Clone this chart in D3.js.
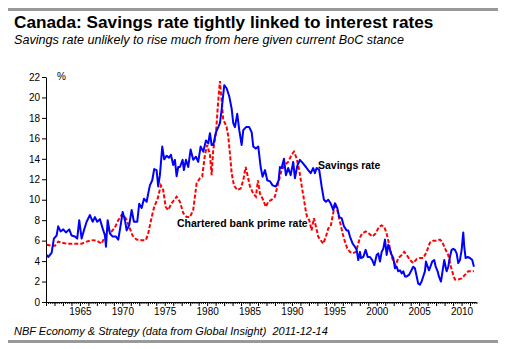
<!DOCTYPE html>
<html>
<head>
<meta charset="utf-8">
<script src="https://cdnjs.cloudflare.com/ajax/libs/d3/7.8.5/d3.min.js"></script>
<style>
  body { margin: 0; background: #fff; }
  svg { display: block; font-family: "Liberation Sans", Arial, sans-serif; }
</style>
</head>
<body>
<svg id="chart" width="508" height="349"></svg>
<script>
// Personal savings rate (%)
const savingsYears = [
  1961.07, 1961.26, 1961.66, 1961.93, 1962.25, 1962.44, 1962.72, 1963.03, 1963.35, 1963.74,
  1964.02, 1964.41, 1964.68, 1964.92, 1965.2, 1965.47, 1965.79, 1966.18, 1966.5, 1966.77,
  1967.04, 1967.36, 1967.68, 1967.95, 1968.07, 1968.27, 1968.54, 1968.86, 1969.25, 1969.52,
  1969.8, 1970.04, 1970.31, 1970.51, 1970.81, 1971.1, 1971.37, 1971.76, 1971.99, 1972.28,
  1972.55, 1972.87, 1973.05, 1973.25, 1973.53, 1973.76, 1974.04, 1974.23, 1974.43, 1974.71,
  1974.94, 1975.22, 1975.5, 1975.73, 1976.0, 1976.2, 1976.4, 1976.59, 1976.79, 1977.11,
  1977.26, 1977.5, 1977.77, 1978.05, 1978.36, 1978.68, 1978.95, 1979.23, 1979.54, 1979.86,
  1980.13, 1980.33, 1980.53, 1980.72, 1981.04, 1981.31, 1981.51, 1981.71, 1982.02, 1982.3,
  1982.61, 1982.89, 1983.08, 1983.28, 1983.55, 1983.79, 1984.07, 1984.26, 1984.58, 1984.96,
  1985.25, 1985.44, 1985.75, 1986.03, 1986.31, 1986.54, 1986.82, 1987.09, 1987.41, 1987.72,
  1988.11, 1988.43, 1988.58, 1988.78, 1989.06, 1989.29, 1989.56, 1989.85, 1990.15, 1990.35,
  1990.63, 1990.94, 1991.26, 1991.65, 1991.92, 1992.21, 1992.51, 1992.71, 1992.91, 1993.22,
  1993.5, 1993.77, 1994.01, 1994.28, 1994.56, 1994.87, 1995.07, 1995.34, 1995.58, 1995.86,
  1996.13, 1996.45, 1996.64, 1996.84, 1997.16, 1997.43, 1997.63, 1997.82, 1998.02, 1998.14,
  1998.41, 1998.69, 1998.93, 1999.2, 1999.47, 1999.71, 1999.99, 2000.18, 2000.38, 2000.58,
  2000.77, 2000.97, 2001.17, 2001.36, 2001.56, 2001.76, 2001.95, 2002.15, 2002.35, 2002.54,
  2002.74, 2002.94, 2003.13, 2003.33, 2003.53, 2003.8, 2004.03, 2004.3, 2004.5, 2004.71,
  2004.89, 2005.09, 2005.29, 2005.48, 2005.68, 2005.8, 2006.0, 2006.16, 2006.39, 2006.54,
  2006.78, 2006.95, 2007.18, 2007.33, 2007.57, 2007.72, 2007.96, 2008.12, 2008.24, 2008.43,
  2008.63, 2008.83, 2009.02, 2009.22, 2009.42, 2009.61, 2009.81, 2010.01, 2010.2, 2010.32,
  2010.48, 2010.72, 2010.99, 2011.26, 2011.46
];
const savingsRate = [
  4.6, 4.4, 4.8, 6.2, 6.5, 7.4, 6.9, 7.1, 6.8, 7.1,
  6.5, 6.4, 6.2, 8.0, 6.2, 7.0, 7.85, 8.5, 7.85, 8.3,
  7.85, 8.1, 7.2, 6.5, 5.4, 8.0, 6.7, 6.4, 6.4, 6.1,
  7.5, 8.8, 8.0, 7.0, 7.5, 9.0, 7.85, 7.85, 9.6, 9.2,
  10.1, 9.8, 10.6, 11.4, 11.9, 13.0, 12.9, 11.3, 12.4, 15.2,
  13.95, 14.3, 14.1, 14.4, 13.4, 13.9, 12.3, 13.2, 13.2, 13.9,
  12.9, 13.9, 13.2, 14.9, 13.9, 14.2, 13.7, 15.2, 14.7, 15.8,
  15.5, 16.5, 15.35, 15.35, 16.6, 17.1, 17.5, 18.8, 21.2, 20.9,
  20.1, 18.9, 17.5, 17.1, 18.4, 16.8, 15.35, 16.8, 17.1, 17.1,
  16.6, 15.2, 15.0, 15.2, 13.2, 12.25, 12.9, 11.9, 11.8, 11.4,
  11.3, 11.9, 13.2, 13.1, 14.0, 12.4, 13.1, 12.4, 13.7, 12.1,
  13.3, 13.9, 13.6, 13.2, 12.9, 12.6, 13.1, 12.6, 13.1, 12.9,
  11.3, 10.0, 9.8, 10.0, 9.65, 9.0, 9.65, 9.2, 8.3, 8.2,
  7.4, 7.0, 7.0, 6.4, 5.7, 5.4, 5.1, 4.1, 4.9, 4.3,
  4.4, 5.1, 4.4, 4.4, 4.1, 3.6, 4.6, 4.75, 3.95, 4.9,
  5.2, 6.1, 4.6, 5.6, 5.1, 4.6, 4.3, 3.3, 3.45, 3.0,
  3.1, 2.8, 3.0, 2.5, 2.5, 2.65, 3.0, 3.45, 3.3, 2.5,
  1.8, 1.7, 2.0, 2.5, 3.0, 3.95, 3.45, 3.1, 3.6, 3.95,
  4.1, 3.45, 3.0, 2.5, 2.0, 2.8, 4.1, 3.45, 3.0, 3.45,
  4.4, 5.1, 5.2, 5.1, 4.75, 3.8, 4.1, 5.1, 6.8, 5.4,
  4.3, 4.4, 4.3, 4.1, 3.45
];

// Chartered bank prime rate (%)
const primeYears = [
  1961.07, 1961.66, 1962.05, 1962.44, 1962.84, 1963.43, 1964.21, 1965.2, 1965.79, 1966.38,
  1966.97, 1967.56, 1967.95, 1968.34, 1968.74, 1969.13, 1969.52, 1969.92, 1970.19, 1970.51,
  1970.81, 1971.21, 1971.68, 1972.28, 1972.78, 1973.05, 1973.46, 1973.76, 1974.16, 1974.55,
  1974.82, 1975.11, 1975.41, 1975.81, 1976.4, 1976.79, 1977.18, 1977.58, 1977.97, 1978.36,
  1978.76, 1979.15, 1979.42, 1979.74, 1980.01, 1980.33, 1980.53, 1980.72, 1981.04, 1981.31,
  1981.51, 1981.71, 1981.9, 1982.1, 1982.3, 1982.49, 1982.69, 1982.89, 1983.16, 1983.55,
  1983.95, 1984.26, 1984.54, 1984.76, 1985.05, 1985.44, 1985.75, 1985.99, 1986.23, 1986.54,
  1986.93, 1987.2, 1987.61, 1987.99, 1988.38, 1988.78, 1989.17, 1989.56, 1989.96, 1990.24,
  1990.55, 1990.86, 1991.14, 1991.42, 1991.65, 1991.8, 1992.04, 1992.32, 1992.59, 1992.83,
  1993.1, 1993.38, 1993.69, 1994.01, 1994.28, 1994.56, 1994.87, 1995.07, 1995.34, 1995.66,
  1995.98, 1996.25, 1996.52, 1996.84, 1997.16, 1997.55, 1997.82, 1998.02, 1998.29, 1998.69,
  1999.08, 1999.47, 1999.87, 2000.26, 2000.58, 2000.88, 2001.17, 2001.44, 2001.67, 2001.95,
  2002.23, 2002.54, 2002.94, 2003.24, 2003.53, 2003.92, 2004.3, 2004.71, 2005.09, 2005.48,
  2005.88, 2006.27, 2006.66, 2007.06, 2007.45, 2007.72, 2008.04, 2008.43, 2008.75, 2009.02,
  2009.22, 2009.61, 2010.01, 2010.4, 2010.79, 2011.19, 2011.46
];
const primeRate = [
  5.6, 5.5, 5.5, 5.9, 5.8, 5.7, 5.7, 5.7, 5.9, 6.05,
  6.0, 5.7, 6.4, 7.1, 6.9, 7.3, 8.0, 8.5, 8.5, 8.0,
  7.35, 6.5, 6.1, 6.05, 6.05, 6.7, 8.3, 9.3, 10.1, 11.4,
  10.95, 9.3, 9.0, 9.65, 10.3, 9.8, 8.7, 8.3, 8.3, 9.0,
  11.6, 12.1, 12.25, 14.4, 15.35, 14.4, 12.4, 14.9, 16.5, 19.7,
  21.6, 19.7, 17.8, 17.5, 17.1, 16.2, 14.5, 12.6, 11.4, 10.95,
  11.1, 11.9, 13.2, 12.4, 11.3, 10.6, 10.3, 11.9, 10.6, 10.1,
  9.3, 9.8, 10.0, 10.3, 11.6, 12.9, 13.4, 13.7, 14.4, 14.7,
  14.05, 12.9, 11.4, 10.0, 8.8, 8.3, 8.0, 7.0, 8.2, 7.35,
  6.4, 6.05, 5.7, 6.4, 7.2, 7.35, 8.7, 9.65, 9.0, 7.85,
  6.7, 5.9, 5.25, 4.9, 4.75, 4.9, 5.7, 6.3, 6.7, 6.9,
  6.7, 6.4, 6.7, 7.35, 7.5, 7.35, 6.7, 5.7, 4.75, 3.95,
  3.6, 4.3, 4.6, 4.9, 4.6, 4.1, 3.8, 4.2, 4.3, 4.3,
  4.9, 5.8, 6.0, 6.0, 6.1, 5.9, 5.25, 4.6, 3.45, 2.65,
  2.2, 2.2, 2.3, 2.65, 3.0, 3.0, 3.0
];

const yTicks = [0, 2, 4, 6, 8, 10, 12, 14, 16, 18, 20, 22];
const yearLabels = [1965, 1970, 1975, 1980, 1985, 1990, 1995, 2000, 2005, 2010];

const svg = d3.select('#chart');

const x = d3.scaleLinear().domain([1961, 2011.75]).range([46, 476.4]);
const y = d3.scaleLinear().domain([0, 22]).range([302, 77]);

// grey rules top and bottom
svg.append('rect').attr('x', 8).attr('y', 8).attr('width', 490).attr('height', 3).attr('fill', '#999');
svg.append('rect').attr('x', 8).attr('y', 340).attr('width', 490).attr('height', 3).attr('fill', '#999');

svg.append('text')
  .attr('x', 14).attr('y', 28)
  .attr('font-size', 17.2).attr('font-weight', 'bold')
  .text('Canada: Savings rate tightly linked to interest rates');

svg.append('text')
  .attr('x', 14).attr('y', 44)
  .attr('font-size', 12.6).attr('font-style', 'italic')
  .text('Savings rate unlikely to rise much from here given current BoC stance');

svg.append('text')
  .attr('x', 14).attr('y', 335)
  .attr('font-size', 11).attr('font-style', 'italic')
  .style('white-space', 'pre')
  .text('NBF Economy & Strategy (data from Global Insight)  2011-12-14');

// y axis
const yAxis = svg.append('g')
  .attr('transform', 'translate(46,0)')
  .call(d3.axisLeft(y).tickValues(yTicks).tickSize(4).tickSizeOuter(0).tickPadding(2));
yAxis.selectAll('text').attr('font-size', 10).attr('font-family', null).attr('fill', '#000');

svg.append('text')
  .attr('x', 57).attr('y', 80)
  .attr('font-size', 10)
  .text('%');

// x axis: quarterly minor ticks, yearly ticks, labels every 5 years
const quarters = d3.range(1961, 2011.8, 0.25);
svg.append('g')
  .attr('transform', 'translate(0,302)')
  .call(d3.axisBottom(x).tickValues(quarters).tickSize(2).tickSizeOuter(0).tickFormat(''));

const years = d3.range(1961, 2012);
svg.append('g')
  .attr('transform', 'translate(0,302)')
  .call(d3.axisBottom(x).tickValues(years).tickSize(4).tickSizeOuter(0).tickFormat(''))
  .select('.domain').remove();

const xLab = svg.append('g')
  .attr('transform', 'translate(0,302)')
  .call(d3.axisBottom(x).tickValues(yearLabels).tickSize(0).tickPadding(6).tickFormat(d3.format('d')));
xLab.select('.domain').remove();
xLab.selectAll('text').attr('font-size', 10).attr('font-family', null).attr('fill', '#000');

// lines
const line = d3.line()
  .x(d => x(d[0]))
  .y(d => y(d[1]));

svg.append('path')
  .datum(d3.zip(primeYears, primeRate))
  .attr('fill', 'none')
  .attr('stroke', '#ff0000')
  .attr('stroke-width', 2)
  .attr('stroke-dasharray', '4,2')
  .attr('d', line);

svg.append('path')
  .datum(d3.zip(savingsYears, savingsRate))
  .attr('fill', 'none')
  .attr('stroke', '#0000ff')
  .attr('stroke-width', 2)
  .attr('stroke-linejoin', 'round')
  .attr('d', line);

svg.append('text')
  .attr('x', 318).attr('y', 169)
  .attr('font-size', 10.5).attr('font-weight', 'bold')
  .text('Savings rate');

svg.append('text')
  .attr('x', 177).attr('y', 227)
  .attr('font-size', 10.5).attr('font-weight', 'bold')
  .text('Chartered bank prime rate');
</script>
</body>
</html>
